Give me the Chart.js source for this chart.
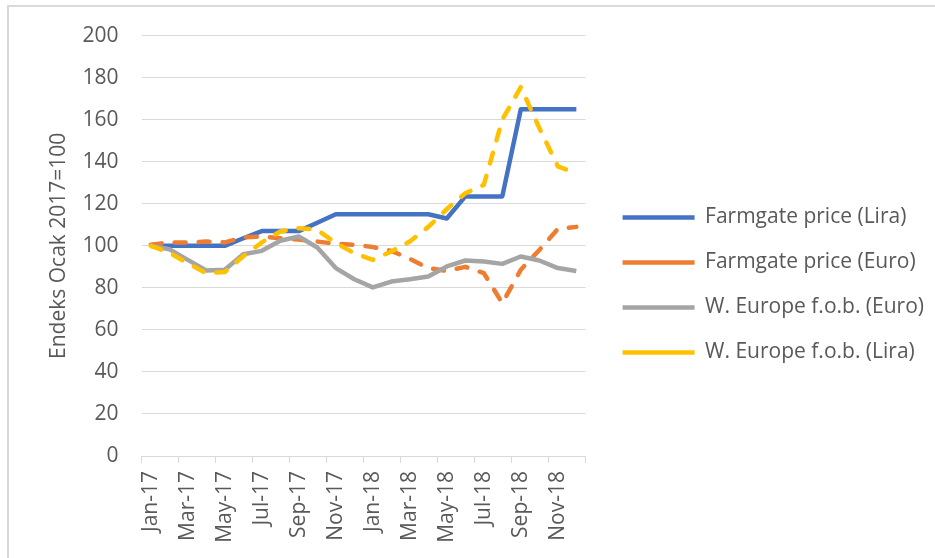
<!DOCTYPE html>
<html lang="tr">

<head>
    <meta charset="UTF-8">
    <title>Endeks Ocak 2017=100</title>
    <script src="https://cdn.jsdelivr.net/npm/chart.js"></script>
    <style>
        body { margin: 0; overflow: hidden; background: #fff; }
        #wrap { position: relative; width: 935px; height: 558px; }
        #frame {
            position: absolute; left: 7px; top: 5px; width: 1000px; height: 1000px;
            border-top: 2px solid #d9d9d9; border-left: 2px solid #d9d9d9;
        }
        #myChart { position: absolute; left: 0; top: 0; }
    </style>
</head>

<body>
    <div id="wrap">
        <div id="frame"></div>
        <canvas id="myChart" width="935" height="558"></canvas>
    </div>
    <script>
        // aylar: Ocak 2017 - Aralik 2018
        const months = ['Jan-17', 'Feb-17', 'Mar-17', 'Apr-17', 'May-17', 'Jun-17', 'Jul-17', 'Aug-17', 'Sep-17', 'Oct-17', 'Nov-17', 'Dec-17',
            'Jan-18', 'Feb-18', 'Mar-18', 'Apr-18', 'May-18', 'Jun-18', 'Jul-18', 'Aug-18', 'Sep-18', 'Oct-18', 'Nov-18', 'Dec-18'];

        const farmgateLira = [100, 100, 100, 100, 100, 103.6, 107, 107, 107, 111, 115, 115,
            115, 115, 115, 115, 113, 123.5, 123.5, 123.5, 165, 165, 165, 165];
        const farmgateEuro = [100.5, 101.6, 101.6, 102, 101.6, 104, 104.4, 103.6, 103, 102, 101, 100.5,
            99.4, 97.6, 93.8, 89.4, 88, 90, 87, 72.7, 88.6, 98, 108, 109];
        const weEuro = [100, 98.4, 93.3, 88.3, 88.6, 96, 97.6, 102.4, 104.4, 99.2, 89.4, 84.1,
            80.2, 83, 84.1, 85.4, 90.2, 93, 92.5, 91.4, 94.9, 93, 89.4, 88];
        const weLira = [100, 96.8, 91.7, 87, 87.5, 95, 101.6, 106.8, 108.4, 107.6, 101.3, 96.5,
            93.3, 97.3, 102, 109, 117.5, 125, 129, 160, 175.5, 156, 137.8, 134.5];

        const seriesNames = ['Farmgate price (Lira)', 'Farmgate price (Euro)', 'W. Europe f.o.b. (Euro)', 'W. Europe f.o.b. (Lira)'];
        const yTitle = 'Endeks Ocak 2017=100';

        const textColor = '#595959';
        const gridColor = '#d9d9d9';
        const fontFamily = '"Open Sans", sans-serif';

        function lineSet(label, data, color, dashed, order) {
            return {
                label: label,
                data: data,
                yAxisID: 'y',
                borderColor: color,
                backgroundColor: color,
                borderWidth: 4.5,
                borderDash: dashed ? [11, 13] : [],
                borderCapStyle: dashed ? 'round' : 'butt',
                borderJoinStyle: 'round',
                pointRadius: 0,
                pointHoverRadius: 0,
                tension: 0,
                fill: false,
                order: order // excel gibi: son seri en ustte
            };
        }

        const ctx = document.getElementById('myChart').getContext('2d');
        const myChart = new Chart(ctx, {
            type: 'line',
            data: {
                labels: months,
                datasets: [
                    lineSet(seriesNames[0], farmgateLira, '#4472C4', false, 4),
                    lineSet(seriesNames[1], farmgateEuro, '#ED7D31', true, 3),
                    lineSet(seriesNames[2], weEuro, '#A5A5A5', false, 2),
                    lineSet(seriesNames[3], weLira, '#FFC000', true, 1)
                ]
            },
            options: {
                responsive: false,
                animation: false,
                devicePixelRatio: 1,
                layout: { padding: { left: 10, top: 12, right: 1, bottom: 0 } },
                plugins: {
                    tooltip: { enabled: false },
                    // bos baslik: sadece ust bosluk icin
                    title: { display: true, text: ' ', font: { size: 10 }, padding: { top: 5, bottom: 6 } },
                    legend: {
                        position: 'right',
                        maxWidth: 400,
                        labels: {
                            usePointStyle: true,
                            pointStyle: 'line',
                            pointStyleWidth: 72,
                            boxHeight: 21,
                            padding: 24,
                            color: textColor,
                            font: { family: fontFamily, size: 21 },
                            sort: (a, b) => a.datasetIndex - b.datasetIndex
                        }
                    }
                },
                scales: {
                    x: {
                        offset: true,
                        grid: {
                            offset: true,
                            drawOnChartArea: false,
                            drawTicks: true,
                            tickLength: 7,
                            // her iki ayda bir cizgi
                            color: c => (c.index === undefined || c.index % 2 === 0) ? gridColor : 'rgba(0,0,0,0)'
                        },
                        border: { display: true, color: gridColor, width: 1 },
                        ticks: {
                            autoSkip: false,
                            minRotation: 90,
                            maxRotation: 90,
                            padding: 8,
                            color: textColor,
                            font: { family: fontFamily, size: 21 },
                            callback: function (value, index) {
                                return index % 2 === 0 ? this.getLabelForValue(value) : '';
                            }
                        },
                        afterFit: s => { s.height = 102; }
                    },
                    y: {
                        min: 0,
                        max: 200,
                        ticks: {
                            stepSize: 20,
                            padding: 23,
                            color: textColor,
                            font: { family: fontFamily, size: 21 }
                        },
                        grid: { color: gridColor, lineWidth: 1, drawTicks: false },
                        border: { display: false },
                        title: {
                            display: true,
                            text: yTitle,
                            color: textColor,
                            font: { family: fontFamily, size: 21 },
                            padding: { top: 36, bottom: 0 }
                        },
                        afterFit: s => { s.width = 131.5; }
                    },
                    // sag tarafta grafik ile lejant arasi bosluk
                    yGap: {
                        position: 'right',
                        display: true,
                        grid: { display: false },
                        border: { display: false },
                        ticks: { display: false },
                        afterFit: s => { s.width = 13; }
                    }
                }
            }
        });
    </script>
</body>

</html>
